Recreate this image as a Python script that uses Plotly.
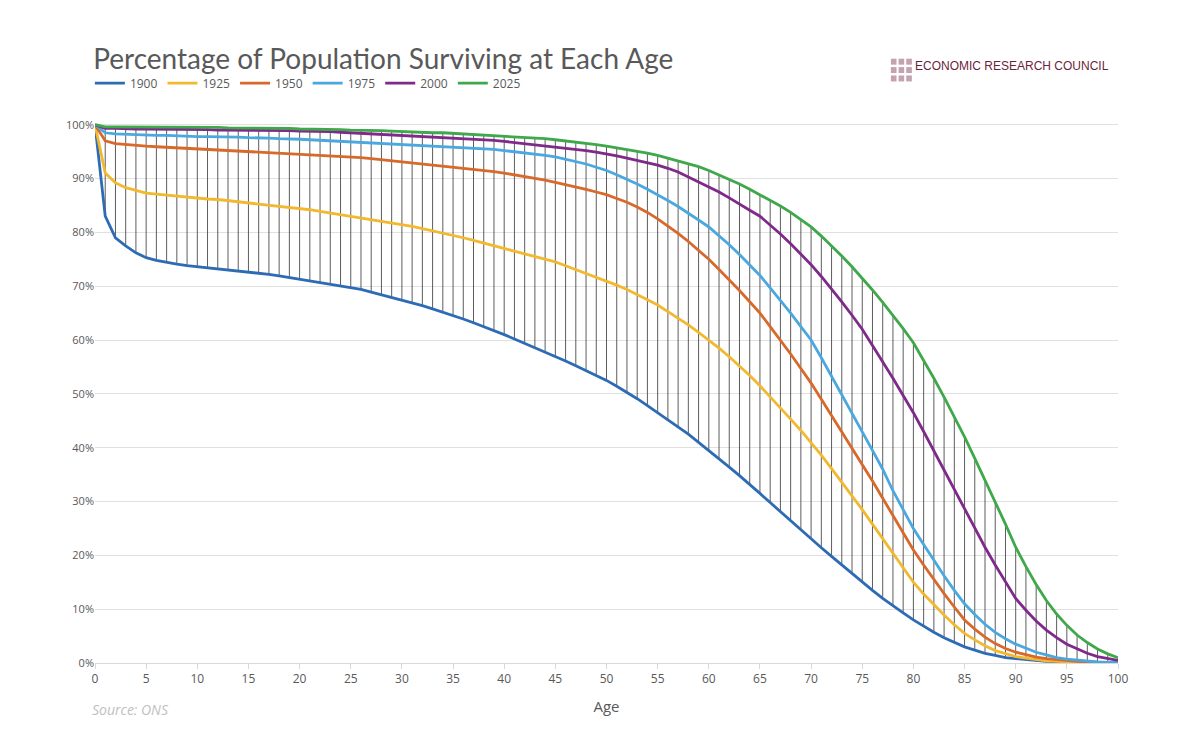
import plotly.graph_objects as go

ages = list(range(0, 101))

# survival curves, % of population alive at each age
survival = {
    '1900': [100, 83, 79, 77.5, 76.2, 75.3, 74.8, 74.4, 74.1, 73.8,
             73.6, 73.4, 73.2, 73.0, 72.9, 72.7, 72.5, 72.2, 71.9, 71.6,
             71.3, 71.0, 70.7, 70.4, 70.1, 69.8, 69.4, 68.9, 68.4, 68.0,
             67.5, 67.0, 66.4, 65.8, 65.2, 64.5, 63.9, 63.2, 62.5, 61.8,
             61.0, 60.2, 59.4, 58.6, 57.8, 57.0, 56.1, 55.2, 54.3, 53.4,
             52.5, 51.4, 50.3, 49.1, 47.8, 46.5, 45.2, 43.9, 42.5, 41.0,
             39.5, 38.0, 36.4, 34.8, 33.2, 31.5, 29.8, 28.1, 26.4, 24.7,
             23.0, 21.4, 19.8, 18.2, 16.6, 15.0, 13.5, 12.0, 10.6, 9.3,
             8.0, 6.8, 5.7, 4.7, 3.8, 3.0, 2.4, 1.8, 1.4, 1.0,
             0.8, 0.6, 0.4, 0.3, 0.25, 0.2, 0.15, 0.1, 0.05, 0.02, 0.0],
    '1925': [100, 91, 89.2, 88.3, 87.8, 87.3, 87.1, 86.9, 86.7, 86.5,
             86.3, 86.2, 86.1, 85.9, 85.7, 85.5, 85.3, 85.1, 84.9, 84.7,
             84.5, 84.2, 83.9, 83.6, 83.3, 83.0, 82.7, 82.4, 82.1, 81.8,
             81.5, 81.1, 80.7, 80.3, 79.9, 79.5, 79.0, 78.5, 78.0, 77.5,
             77.0, 76.5, 76.0, 75.5, 75.0, 74.5, 73.8, 73.1, 72.4, 71.7,
             71.0, 70.2, 69.4, 68.5, 67.5, 66.5, 65.3, 64.1, 62.8, 61.4,
             60.0, 58.5, 56.9, 55.2, 53.4, 51.5, 49.5, 47.4, 45.3, 43.2,
             41.0, 38.6, 36.1, 33.6, 31.0, 28.5, 25.8, 23.1, 20.4, 17.7,
             15.0, 12.8, 10.8, 8.9, 7.1, 5.5, 4.3, 3.2, 2.3, 1.7,
             1.2, 0.9, 0.6, 0.4, 0.3, 0.2, 0.1, 0.05, 0.03, 0.02, 0.0],
    '1950': [100, 97, 96.5, 96.3, 96.1, 96.0, 95.9, 95.8, 95.7, 95.6,
             95.5, 95.4, 95.3, 95.2, 95.1, 95.0, 94.9, 94.8, 94.7, 94.6,
             94.6, 94.5, 94.4, 94.2, 94.1, 94.0, 93.9, 93.7, 93.5, 93.4,
             93.2, 93.0, 92.8, 92.6, 92.4, 92.2, 92.0, 91.8, 91.5, 91.3,
             91.0, 90.7, 90.4, 90.0, 89.7, 89.3, 88.9, 88.5, 88.0, 87.5,
             87.0, 86.3, 85.6, 84.7, 83.7, 82.5, 81.2, 79.8, 78.3, 76.7,
             75.0, 73.1, 71.2, 69.2, 67.1, 65.0, 62.5, 60.0, 57.4, 54.7,
             52.0, 49.0, 46.0, 43.0, 40.0, 37.0, 33.8, 30.6, 27.4, 24.2,
             21.0, 18.2, 15.5, 12.9, 10.4, 8.0, 6.3, 4.8, 3.6, 2.7,
             2.0, 1.5, 1.1, 0.8, 0.6, 0.4, 0.3, 0.2, 0.1, 0.05, 0.0],
    '1975': [100, 98.5, 98.3, 98.2, 98.1, 98.0, 98.0, 98.0, 97.9, 97.9,
             97.8, 97.8, 97.8, 97.7, 97.7, 97.6, 97.6, 97.5, 97.4, 97.4,
             97.3, 97.2, 97.1, 97.0, 96.9, 96.8, 96.7, 96.6, 96.5, 96.5,
             96.4, 96.3, 96.2, 96.0, 95.9, 95.8, 95.7, 95.6, 95.5, 95.4,
             95.2, 95.0, 94.8, 94.5, 94.3, 94.0, 93.6, 93.2, 92.7, 92.1,
             91.5, 90.7, 89.9, 89.0, 88.0, 87.0, 85.9, 84.8, 83.6, 82.3,
             81.0, 79.4, 77.7, 75.9, 74.0, 72.0, 69.7, 67.4, 65.0, 62.5,
             60.0, 56.7, 53.3, 49.9, 46.5, 43.0, 39.5, 36.0, 32.0, 28.5,
             25.0, 22.0, 19.0, 16.2, 13.5, 11.0, 9.0, 7.2, 5.7, 4.5,
             3.5, 2.7, 2.0, 1.5, 1.0, 0.7, 0.5, 0.35, 0.2, 0.1, 0.1],
    '2000': [100, 99.3, 99.3, 99.2, 99.2, 99.2, 99.2, 99.1, 99.1, 99.1,
             99.1, 99.1, 99.0, 99.0, 99.0, 99.0, 99.0, 98.9, 98.9, 98.9,
             98.8, 98.8, 98.7, 98.7, 98.6, 98.5, 98.4, 98.4, 98.3, 98.2,
             98.1, 98.0, 97.9, 97.8, 97.7, 97.6, 97.5, 97.4, 97.2, 97.1,
             96.9, 96.7, 96.5, 96.3, 96.1, 95.9, 95.7, 95.4, 95.2, 94.9,
             94.6, 94.2, 93.8, 93.4, 93.0, 92.5, 91.9, 91.2, 90.3, 89.4,
             88.5, 87.5, 86.4, 85.2, 84.1, 83.0, 81.4, 79.7, 77.9, 76.0,
             74.0, 71.8, 69.5, 67.1, 64.6, 62.0, 59.0, 56.0, 52.9, 49.7,
             46.5, 43.0, 39.4, 35.8, 32.1, 28.5, 25.0, 21.5, 18.2, 15.0,
             12.0, 9.8, 7.8, 6.1, 4.7, 3.5, 2.6, 1.8, 1.2, 0.8, 0.5],
    '2025': [100, 99.6, 99.6, 99.6, 99.5, 99.5, 99.5, 99.5, 99.5, 99.5,
             99.5, 99.5, 99.5, 99.4, 99.4, 99.4, 99.4, 99.3, 99.3, 99.3,
             99.2, 99.2, 99.2, 99.1, 99.1, 99.0, 99.0, 98.9, 98.9, 98.8,
             98.7, 98.7, 98.6, 98.5, 98.5, 98.4, 98.3, 98.2, 98.1, 98.0,
             97.9, 97.8, 97.7, 97.5, 97.4, 97.2, 97.0, 96.8, 96.6, 96.3,
             96.0, 95.7, 95.4, 95.0, 94.7, 94.3, 93.8, 93.3, 92.8, 92.2,
             91.5, 90.7, 89.9, 89.0, 88.0, 87.0, 86.0, 84.9, 83.7, 82.4,
             81.0, 79.3, 77.5, 75.6, 73.6, 71.5, 69.3, 67.0, 64.6, 62.1,
             59.5, 56.3, 52.9, 49.4, 45.8, 42.0, 38.0, 34.0, 29.9, 25.8,
             21.5, 17.9, 14.6, 11.6, 9.1, 7.0, 5.2, 3.8, 2.6, 1.7, 1.0],
}
colours = {'1900': '#2e6bb5', '1925': '#f2b82e', '1950': '#d8692a',
           '1975': '#4aa8e0', '2000': '#7f2a8a', '2025': '#3fa84a'}

# drop lines from highest to lowest curve at every age
drop_x, drop_y = [], []
for i, a in enumerate(ages):
    vals = [survival[k][i] / 100 for k in survival]
    drop_x += [a, a, None]
    drop_y += [min(vals), max(vals), None]

fig = go.Figure()
fig.add_trace(go.Scatter(x=drop_x, y=drop_y, mode='lines', line=dict(color='#333333', width=0.8),
                         showlegend=False, hoverinfo='skip'))
for name, vals in survival.items():
    fig.add_trace(go.Scatter(x=ages, y=[v / 100 for v in vals], mode='lines', name=name,
                             line=dict(color=colours[name], width=2.8)))

# logo squares
for r in range(3):
    for c in range(3):
        x0 = 0.778 + c * 0.0075
        y0 = 1.075 + r * 0.0155
        fig.add_shape(type='rect', xref='paper', yref='paper', x0=x0, x1=x0 + 0.0055,
                      y0=y0, y1=y0 + 0.011, fillcolor='#c4a2b0', line_width=0)

fig.update_layout(
    width=1200, height=733,
    paper_bgcolor='white', plot_bgcolor='white',
    font=dict(family='Open Sans, sans-serif', color='#595959'),
    margin=dict(l=87, r=90, t=114, b=78),
    title=dict(text='Percentage of Population Surviving at Each Age', x=0.071, y=0.93,
               xanchor='left', yanchor='middle', yref='container',
               font=dict(family='Lato, sans-serif', size=28, color='#595959')),
    legend=dict(orientation='h', x=-0.005, y=1.045, xanchor='left', yanchor='bottom',
                font=dict(size=12, color='#595959'), itemwidth=30, tracegroupgap=0),
    xaxis=dict(title=dict(text='Age', font=dict(size=15)), range=[0, 100], dtick=5,
               showgrid=False, showline=True, linecolor='#d9d9d9', ticks='outside',
               tickcolor='#d9d9d9', tickfont=dict(size=12), zeroline=False),
    yaxis=dict(range=[0, 1.005], dtick=0.1, tickformat='.0%', gridcolor='#e0e0e0',
               tickfont=dict(size=11), zeroline=False),
    annotations=[
        dict(text='ECONOMIC RESEARCH COUNCIL', xref='paper', yref='paper', x=0.8, y=1.103,
             xanchor='left', yanchor='middle', showarrow=False,
             font=dict(size=12, color='#6b1f3c', family='Liberation Sans')),
        dict(text='<i>Source: ONS</i>', xref='paper', yref='paper', x=-0.005, y=-0.065,
             xanchor='left', yanchor='top', showarrow=False, font=dict(size=14, color='#c0c0c0')),
    ],
)

fig.write_html('out.html')
